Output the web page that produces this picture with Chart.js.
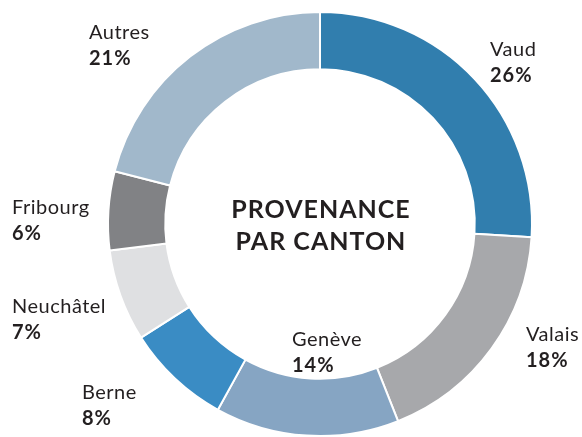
<!DOCTYPE html>
<html lang="fr">
<head>
  <meta charset="UTF-8">
  <title>Provenance par canton</title>
  <script src="https://cdn.jsdelivr.net/npm/chart.js"></script>
  <style>
    html, body { margin: 0; padding: 0; background: #fff; }
    #wrap { width: 582px; height: 437px; }
  </style>
</head>
<body>
  <div id="wrap"><canvas id="myDonut"></canvas></div>

  <script>
    const cantons = ['Vaud', 'Valais', 'Genève', 'Berne', 'Neuchâtel', 'Fribourg', 'Autres'];
    const parts = [26, 18, 14, 8, 7, 6, 21];
    const couleurs = ['#317eae', '#a7a8ab', '#86a5c3', '#3a8cc4', '#dfe0e2', '#818285', '#a1b8cb'];
    const titre = ['PROVENANCE', 'PAR CANTON'];

    // position of each label (left edge, centre of first line)
    const labelPos = [
      [490, 50], [526, 335], [292, 340], [82, 393], [12, 307], [12, 208], [89, 33]
    ];

    const fontFam = 'Lato, "Open Sans", sans-serif';

    const labelsPlugin = {
      id: 'labelsPlugin',
      afterDraw(chart) {
        const ctx = chart.ctx;
        const meta = chart.getDatasetMeta(0);
        ctx.save();
        ctx.fillStyle = '#231f20';
        ctx.textBaseline = 'middle';
        meta.data.forEach((arc, i) => {
          const [x, y] = labelPos[i];
          ctx.textAlign = 'left';
          ctx.letterSpacing = '0.5px';
          ctx.font = '20px ' + fontFam;
          ctx.fillText(cantons[i], x, y);
          ctx.letterSpacing = '1px';
          ctx.font = 'bold 20px ' + fontFam;
          ctx.fillText(parts[i] + '%', x, y + 26);
        });
        const c = meta.data[0];
        ctx.textAlign = 'center';
        ctx.letterSpacing = '1px';
        ctx.font = 'bold 25px ' + fontFam;
        ctx.fillText(titre[0], c.x + 1, 210);
        ctx.fillText(titre[1], c.x + 1, 242);
        ctx.restore();
      }
    };

    new Chart(document.getElementById('myDonut'), {
      type: 'doughnut',
      data: {
        labels: cantons,
        datasets: [{
          data: parts,
          backgroundColor: couleurs,
          borderColor: '#ffffff',
          borderWidth: 2
        }]
      },
      options: {
        responsive: true,
        maintainAspectRatio: false,
        animation: false,
        cutout: '73%',
        layout: { padding: { left: 106, right: 48, top: 11, bottom: 0 } },
        plugins: {
          legend: { display: false },
          tooltip: { enabled: false }
        }
      },
      plugins: [labelsPlugin]
    });
  </script>
</body>
</html>
